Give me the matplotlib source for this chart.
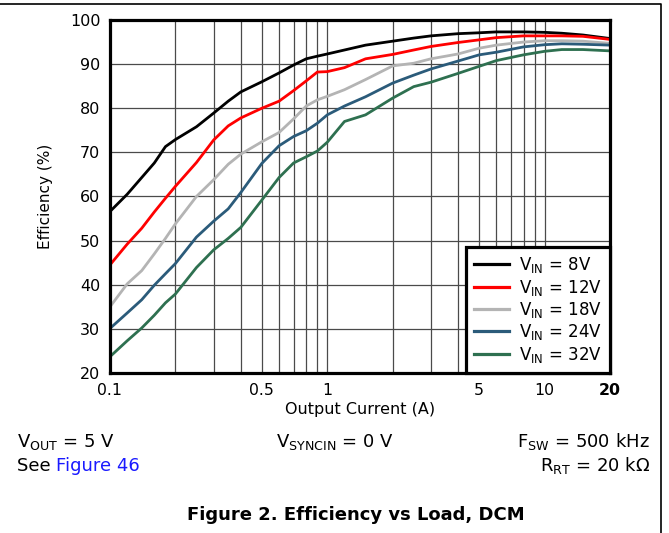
import matplotlib
matplotlib.use('Agg')
import matplotlib.pyplot as plt
from matplotlib.lines import Line2D
from matplotlib import rc

# ---------------------------------DATA---------------------------------
current = [0.1, 0.12, 0.14, 0.16, 0.18, 0.2, 0.25, 0.3, 0.35, 0.4, 0.5, 0.6, 0.7, 0.8, 0.9,
           1.0, 1.2, 1.5, 2, 2.5, 3, 4, 5, 6, 8, 10, 12, 15, 20]
eff_8v = [56.6, 60.5, 64.3, 67.6, 71.3, 72.9, 75.8, 78.9, 81.6, 83.7, 86.0, 88.0, 89.8, 91.2, 91.8,
          92.3, 93.2, 94.3, 95.2, 95.9, 96.4, 96.9, 97.1, 97.3, 97.3, 97.2, 97.0, 96.6, 95.8]
eff_12v = [44.5, 49.2, 52.8, 56.5, 59.6, 62.3, 67.7, 72.8, 76.0, 77.8, 80.0, 81.6, 84.0, 86.2, 88.2,
           88.3, 89.2, 91.2, 92.2, 93.2, 94.0, 94.9, 95.5, 96.0, 96.4, 96.4, 96.4, 96.3, 95.6]
eff_18v = [35.0, 40.2, 43.2, 47.0, 50.5, 53.8, 60.0, 63.8, 67.3, 69.6, 72.4, 74.5, 77.6, 80.5, 81.9,
           82.7, 84.2, 86.5, 89.6, 90.2, 91.2, 92.3, 93.6, 94.3, 95.0, 95.3, 95.3, 95.2, 94.7]
eff_24v = [30.1, 33.6, 36.6, 39.9, 42.5, 44.8, 50.8, 54.4, 57.2, 60.9, 67.5, 71.5, 73.6, 74.9, 76.6,
           78.5, 80.5, 82.6, 85.7, 87.5, 88.9, 90.7, 92.1, 92.7, 93.9, 94.4, 94.6, 94.5, 94.3]
eff_32v = [23.7, 27.3, 30.2, 33.1, 35.9, 37.9, 43.9, 47.9, 50.5, 53.0, 59.2, 64.3, 67.6, 69.0, 70.3,
           72.3, 77.0, 78.5, 82.3, 84.9, 85.9, 87.9, 89.5, 90.8, 92.1, 92.9, 93.3, 93.3, 93.0]

series = [eff_8v, eff_12v, eff_18v, eff_24v, eff_32v]
labels = [r'$\mathregular{V_{IN}}$ = 8V', r'$\mathregular{V_{IN}}$ = 12V', r'$\mathregular{V_{IN}}$ = 18V',
          r'$\mathregular{V_{IN}}$ = 24V', r'$\mathregular{V_{IN}}$ = 32V']
colors = ['#000000', '#ff0000', '#b4b4b4', '#2b5b7a', '#2e7050']

x_major = [0.1, 0.5, 1, 5, 10, 20]
x_major_labels = ['0.1', '0.5', '1', '5', '10', '20']
x_minor = [0.2, 0.3, 0.4, 0.6, 0.7, 0.8, 0.9, 2, 3, 4, 6, 7, 8, 9]
y_ticks = [20, 30, 40, 50, 60, 70, 80, 90, 100]

# ---------------------------------PLOT---------------------------------
rc('font', family='DejaVu Sans')
rc('mathtext', fontset='dejavusans')

fig = plt.figure(figsize=(6.69, 5.33), dpi=100)
ax = fig.add_axes([0.1644, 0.3002, 0.7474, 0.6623])

for vals, lab, col in zip(series, labels, colors):
    ax.plot(current, vals, color=col, lw=2.0, label=lab)

ax.set_xscale('log')
ax.set_xlim(0.1, 20)
ax.set_ylim(20, 100)
ax.set_xticks(x_major)
ax.set_xticklabels(x_major_labels, fontsize=11.3)
ax.set_xticks(x_minor, minor=True)
ax.set_xticklabels([], minor=True)
ax.set_yticks(y_ticks)
ax.set_yticklabels([str(v) for v in y_ticks], fontsize=11.5)
ax.get_xticklabels()[-1].set_fontweight('bold')
ax.tick_params(which='both', length=0, pad=7)
ax.grid(which='both', color='#4a4a4a', lw=0.9)
ax.set_axisbelow(True)
plt.setp(ax.spines.values(), linewidth=2.3)

ax.set_xlabel('Output Current (A)', fontsize=11.5, labelpad=3)
ax.set_ylabel('Efficiency (%)', fontsize=11, labelpad=12)

leg = ax.legend(loc='lower right', borderaxespad=0, fontsize=12, fancybox=False,
                framealpha=1, edgecolor='black', handlelength=2.1, handletextpad=0.55,
                labelspacing=0.14, borderpad=0.5)
leg.get_frame().set_linewidth(2.3)
for h in leg.get_lines():
    h.set_linewidth(2.3)

# ---------------------------------CONDITIONS UNDER THE CHART---------------------------------
fig.text(17/669, 1-442/533, r'$\mathregular{V_{OUT}}$ = 5 V', fontsize=13, va='center', ha='left')
fig.text(17/669, 1-466/533, 'See ', fontsize=13, va='center', ha='left')
fig.text(56/669, 1-466/533, 'Figure 46', fontsize=13, va='center', ha='left', color='#1a1aff')
fig.text(276/669, 1-442/533, r'$\mathregular{V_{SYNCIN}}$ = 0 V', fontsize=13, va='center', ha='left')
fig.text(650/669, 1-442/533, r'$\mathregular{F_{SW}}$ = 500 kHz', fontsize=13, va='center', ha='right')
fig.text(650/669, 1-466/533, r'$\mathregular{R_{RT}}$ = 20 k$\mathregular{\Omega}$', fontsize=13, va='center', ha='right')
fig.text(356/669, 1-515/533, 'Figure 2. Efficiency vs Load, DCM', fontsize=13, fontweight='bold',
         va='center', ha='center')

# PAGE FRAME (TOP AND RIGHT EDGE)
fig.add_artist(Line2D([0, 661/669, 661/669], [1-4/533, 1-4/533, 0], color='black', lw=1.2,
                      transform=fig.transFigure))

plt.savefig('out.png', dpi=100)
